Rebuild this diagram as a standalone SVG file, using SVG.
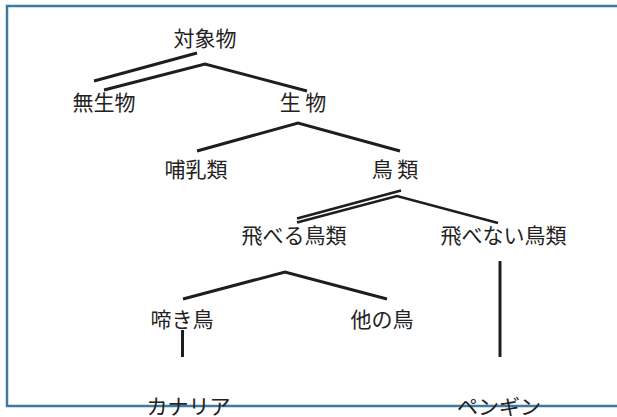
<svg xmlns="http://www.w3.org/2000/svg" width="617" height="417" viewBox="0 0 617 417">
  <style>
    .lbl { font-family: "Noto Sans CJK JP", "Noto Sans", sans-serif; font-size: 21px; fill: #222222; text-anchor: middle; }
    .edge { fill: none; stroke: #1e1e1e; stroke-width: 3; stroke-linejoin: miter; }
    .thin { stroke-width: 2.6; }
  </style>
  <rect x="0" y="0" width="617" height="417" fill="#ffffff"/>
  <path id="frame" d="M 660 6 H 7 V 406 H 660" fill="none" stroke="#3f7ba0" stroke-width="2.5"/>
  <g id="connectors">
    <line class="edge" x1="94" y1="81" x2="197" y2="53"/>
    <polyline class="edge" points="104,90 205,64 307,91"/>
    <polyline class="edge" points="197,151 298,123 400,151"/>
    <line class="edge thin" x1="297" y1="218.5" x2="401" y2="190.5"/>
    <polyline class="edge thin" points="297,222.5 397,196 498,223"/>
    <polyline class="edge" points="183,299 285,272 387,299"/>
    <line class="edge" x1="182.5" y1="330" x2="182.5" y2="357"/>
    <line class="edge" x1="500" y1="261" x2="500" y2="357"/>
  </g>
  <g id="n-taishoubutsu"><text class="lbl" x="205" y="45.5">対象物</text></g>
  <g id="n-museibutsu"><text class="lbl" x="104" y="110">無生物</text></g>
  <g id="n-seibutsu"><text class="lbl" x="303" y="110">生 物</text></g>
  <g id="n-honyurui"><text class="lbl" x="196" y="177">哺乳類</text></g>
  <g id="n-chorui"><text class="lbl" x="395" y="177">鳥 類</text></g>
  <g id="n-toberu"><text class="lbl" x="294" y="243">飛べる鳥類</text></g>
  <g id="n-tobenai"><text class="lbl" x="503.5" y="243">飛べない鳥類</text></g>
  <g id="n-nakidori"><text class="lbl" x="182" y="326.5">啼き鳥</text></g>
  <g id="n-hokanotori"><text class="lbl" x="382" y="326.5">他の鳥</text></g>
  <g id="n-kanaria"><text class="lbl" x="188.5" y="414">カナリア</text></g>
  <g id="n-pengin"><text class="lbl" x="499" y="414">ペンギン</text></g>
</svg>
